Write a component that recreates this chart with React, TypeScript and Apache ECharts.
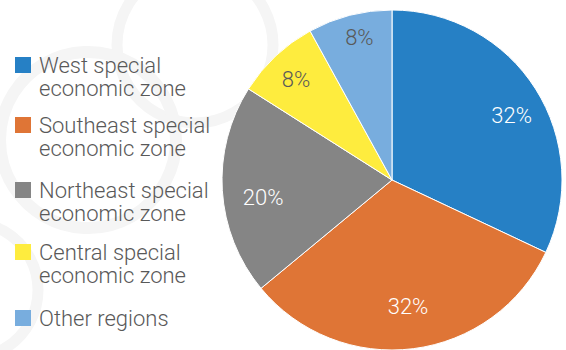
import React, { useEffect, useRef } from "react";
import * as echarts from "echarts";

const categories = [
  "West special\neconomic zone",
  "Southeast special\neconomic zone",
  "Northeast special\neconomic zone",
  "Central special\neconomic zone",
  "Other regions",
];
const shares = [32, 32, 20, 8, 8];
const colors = ["#2680C5", "#DF7536", "#858585", "#FEEC3E", "#78ADDE"];
const labelColors = ["#ffffff", "#ffffff", "#ffffff", "#595959", "#595959"];

const FONT = "Roboto, 'Liberation Sans', Arial, sans-serif";
const LINE_H = 23.5;
const iconCenters = [65, 125, 190, 252, 318];
const CX = 392;
const CY = 180;
// label placement (Excel "best fit"): radial distance and small angular shift
const labelRadius = [136, 128, 130, 139, 146];
const labelShiftDeg = [4, 0, -4, -0.5, 1.5];

export default function App() {
  const ref = useRef<HTMLDivElement>(null);
  useEffect(() => {
    if (!ref.current) return;
    const chart = echarts.init(ref.current, undefined, { renderer: "svg" });

    const textBase = {
      fontFamily: FONT,
      fontWeight: 300,
      fontSize: 22,
      lineHeight: LINE_H,
      color: "#595959",
    };

    const legends = categories.map((name, i) => {
      const twoLine = name.includes("\n");
      return {
        show: true,
        orient: "vertical",
        left: 15,
        top: twoLine ? iconCenters[i] - LINE_H * 1.5 : iconCenters[i] - LINE_H / 2,
        padding: 0,
        selectedMode: false,
        icon: "rect",
        itemWidth: 16,
        itemHeight: 16,
        itemStyle: { borderWidth: 0 },
        formatter: (n: string) =>
          (twoLine ? "\n" : "") +
          n
            .split("\n")
            .map((s) => `{t|${s}}`)
            .join("\n"),
        data: [{ name, itemStyle: { color: colors[i], borderWidth: 0 } }],
        textStyle: {
          ...textBase,
          rich: { t: { ...textBase, padding: [0, 0, 0, 3] } },
        },
      };
    });

    const ring = (cx: number, cy: number, r: number, w: number) => ({
      type: "circle",
      shape: { cx, cy, r },
      style: { fill: "none", stroke: "#f5f5f5", lineWidth: w },
      z: -10,
      silent: true,
    });

    chart.setOption({
      animation: false,
      backgroundColor: "#ffffff",
      graphic: [
        ring(195, 45, 78, 11),
        ring(88, 140, 88, 12),
        ring(-30, 290, 68, 11),
      ],
      legend: legends,
      series: [
        {
          type: "pie",
          center: [CX, CY],
          radius: 170,
          startAngle: 90,
          clockwise: true,
          silent: true,
          itemStyle: { borderColor: "#ffffff", borderWidth: 1 },
          labelLine: { show: false },
          label: {
            show: true,
            position: "inside",
            formatter: "{c}%",
            fontFamily: FONT,
            fontWeight: 300,
            fontSize: 22,
          },
          labelLayout: (p: any) => {
            const i = p.dataIndex;
            const r = p.labelRect;
            const lx = r.x + r.width / 2;
            const ly = r.y + r.height / 2;
            const ang = Math.atan2(ly - CY, lx - CX) + (labelShiftDeg[i] * Math.PI) / 180;
            const tx = CX + labelRadius[i] * Math.cos(ang);
            const ty = CY + labelRadius[i] * Math.sin(ang);
            return { dx: tx - lx, dy: ty - ly };
          },
          data: categories.map((name, i) => ({
            name,
            value: shares[i],
            itemStyle: { color: colors[i] },
            label: { color: labelColors[i] },
          })),
        },
      ],
    });
    return () => chart.dispose();
  }, []);
  return (
    <div
      ref={ref}
      style={{ position: "fixed", left: 0, top: 0, width: 566, height: 350 }}
    />
  );
}
